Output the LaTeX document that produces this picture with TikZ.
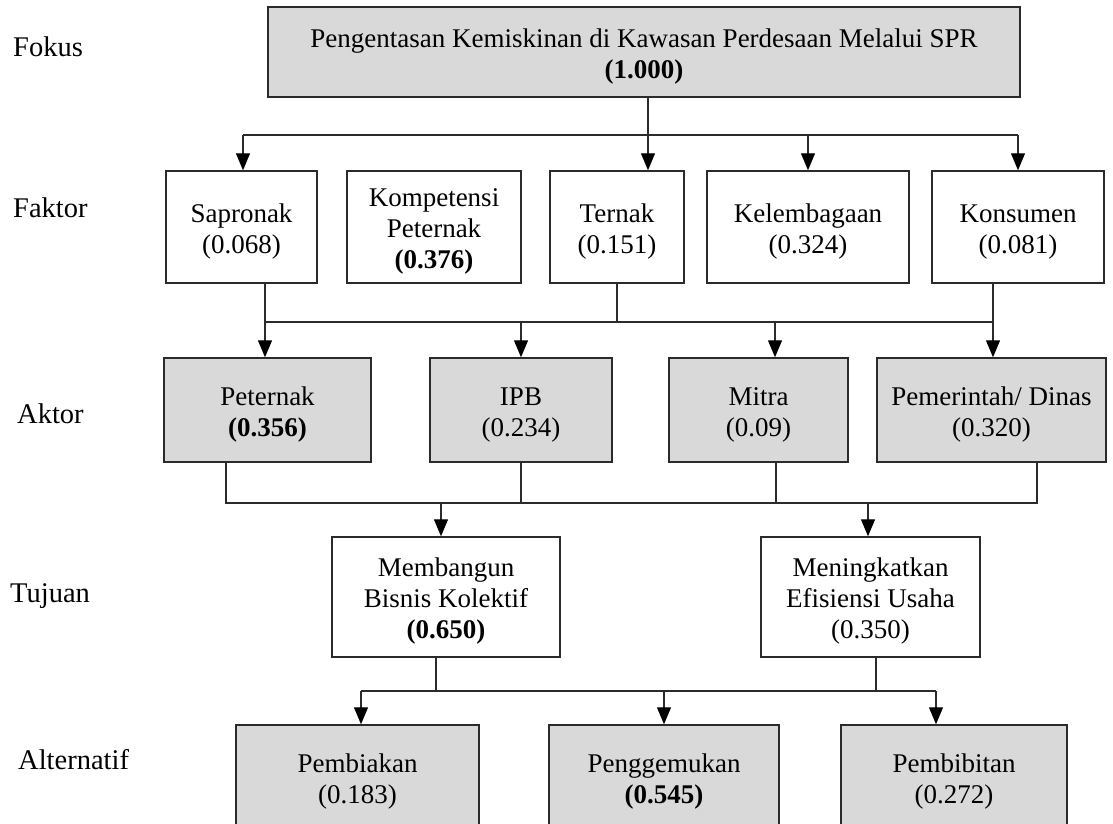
\documentclass[tikz,border=0pt]{standalone}
\usepackage{fontspec}
\setmainfont{Liberation Serif}
\usetikzlibrary{arrows.meta}
\definecolor{boxgray}{HTML}{D9D9D9}
\definecolor{inkgray}{HTML}{2B2B2B}
\newcommand{\boxfont}{\fontsize{27}{31}\selectfont}
\newcommand{\levelfont}{\fontsize{28.5}{32}\selectfont}
% taller first line, so the lines sit a little below the box centre
\newcommand{\firstline}{\rule{0pt}{27pt}}
\tikzset{
  plainbox/.style={draw=inkgray, line width=1.5pt, align=center, inner sep=0pt,
    font=\boxfont, text=black},
  graybox/.style={plainbox, fill=boxgray},
  level/.style={anchor=west, inner sep=0pt, font=\levelfont},
  wire/.style={draw=inkgray, line width=1.3pt},
  arr/.style={wire, -{Triangle[width=14pt,length=17pt,fill=black,color=black]}}
}
\begin{document}
\begin{tikzpicture}[x=1pt,y=-1pt]
\clip (0,0) rectangle (1113,823);
\useasboundingbox (0,0) rectangle (1113,823);

% level names on the left
\node[level] (lfok) at (13,47)  {Fokus};
\node[level] (lfak) at (13,208) {Faktor};
\node[level] (lakt) at (17,414) {Aktor};
\node[level] (ltuj) at (10,596) {Tujuan};
\node[level] (lalt) at (18,760) {Alternatif};

% focus
\node[graybox, minimum width=752pt, minimum height=90pt] (top) at (644,52)
  {\firstline Pengentasan Kemiskinan di Kawasan Perdesaan Melalui SPR\\\textbf{(1.000)}};

% factors
\node[plainbox, minimum width=151pt, minimum height=112pt] (sap) at (241.5,227) {\firstline Sapronak\\(0.068)};
\node[plainbox, minimum width=174pt, minimum height=112pt] (komp) at (434,227) {\firstline Kompetensi\\Peternak\\\textbf{(0.376)}};
\node[plainbox, minimum width=134pt, minimum height=112pt] (ter) at (617,227) {\firstline Ternak\\(0.151)};
\node[plainbox, minimum width=202pt, minimum height=112pt] (kel) at (808,227) {\firstline Kelembagaan\\(0.324)};
\node[plainbox, minimum width=172pt, minimum height=112pt] (kon) at (1018,227) {\firstline Konsumen\\(0.081)};

% actors
\node[graybox, minimum width=207pt, minimum height=104pt] (pet) at (267.5,410) {\firstline Peternak\\\textbf{(0.356)}};
\node[graybox, minimum width=182pt, minimum height=104pt] (ipb) at (521,410) {\firstline IPB\\(0.234)};
\node[graybox, minimum width=179pt, minimum height=104pt] (mit) at (758.5,410) {\firstline Mitra\\(0.09)};
\node[graybox, minimum width=229pt, minimum height=104pt] (pem) at (991.5,410) {\firstline Pemerintah/ Dinas\\(0.320)};

% goals
\node[plainbox, minimum width=228pt, minimum height=120pt] (mem) at (446,597) {\firstline Membangun\\Bisnis Kolektif\\\textbf{(0.650)}};
\node[plainbox, minimum width=219pt, minimum height=120pt] (men) at (870.5,597) {\firstline Meningkatkan\\Efisiensi Usaha\\(0.350)};

% alternatives
\node[graybox, minimum width=243pt, minimum height=104pt] (pbk) at (357.5,777) {\firstline Pembiakan\\(0.183)};
\node[graybox, minimum width=230pt, minimum height=104pt] (pgm) at (664,777) {\firstline Penggemukan\\\textbf{(0.545)}};
\node[graybox, minimum width=226pt, minimum height=104pt] (pbt) at (954,777) {\firstline Pembibitan\\(0.272)};

% bus: focus -> factors
\coordinate (b1)  at (648,135);
\coordinate (b1l) at (243,135);
\coordinate (b1r) at (1018,135);
\draw[wire] (top.south -| b1) -- (b1);
\draw[wire] (b1l) -- (b1r);
\draw[arr] (b1l) -- (b1l |- sap.north);
\draw[arr] (b1) -- (b1 |- ter.north);
\draw[arr] (kel.north |- b1) -- (kel.north);
\draw[arr] (b1r) -- (b1r |- kon.north);

% bus: factors -> actors
\coordinate (b2l) at (265,322);
\coordinate (b2m) at (775,322);
\coordinate (b2r) at (993,322);
\draw[wire] (b2l |- sap.south) -- (b2l) -- (b2r) -- (b2r |- kon.south);
\draw[wire] (ter.south) -- (ter.south |- b2l);
\draw[arr] (b2l) -- (b2l |- pet.north);
\draw[arr] (ipb.north |- b2l) -- (ipb.north);
\draw[arr] (b2m) -- (b2m |- mit.north);
\draw[arr] (b2r) -- (b2r |- pem.north);

% bus: actors -> goals
\coordinate (b3l) at (226,503);
\coordinate (b3m) at (776,503);
\coordinate (b3r) at (1037,503);
\coordinate (b3a) at (441,503);
\coordinate (b3b) at (868,503);
\draw[wire] (b3l |- pet.south) -- (b3l) -- (b3r) -- (b3r |- pem.south);
\draw[wire] (ipb.south) -- (ipb.south |- b3l);
\draw[wire] (b3m |- mit.south) -- (b3m);
\draw[arr] (b3a) -- (b3a |- mem.north);
\draw[arr] (b3b) -- (b3b |- men.north);

% bus: goals -> alternatives
\coordinate (b4l) at (361,691);
\coordinate (b4r) at (936,691);
\coordinate (b4a) at (436,691);
\coordinate (b4b) at (876,691);
\draw[wire] (b4l) -- (b4r);
\draw[wire] (b4a |- mem.south) -- (b4a);
\draw[wire] (b4b |- men.south) -- (b4b);
\draw[arr] (b4l) -- (b4l |- pbk.north);
\draw[arr] (pgm.north |- b4l) -- (pgm.north);
\draw[arr] (b4r) -- (b4r |- pbt.north);
\end{tikzpicture}
\end{document}
